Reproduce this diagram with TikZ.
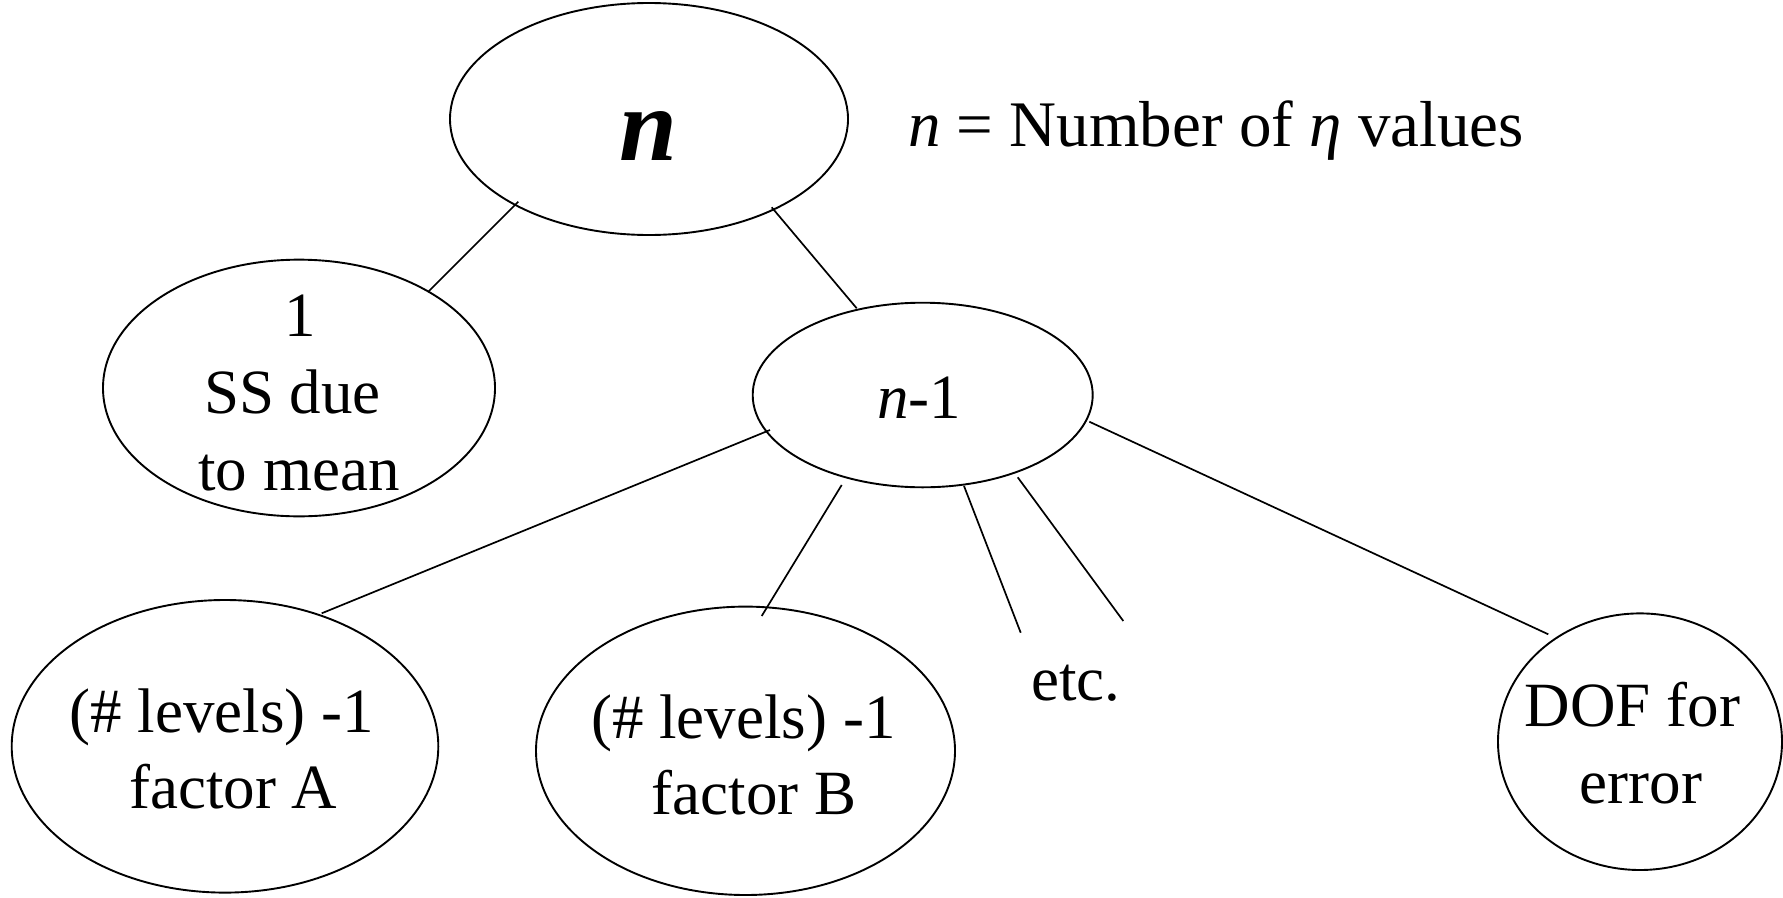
\documentclass[tikz,border=0pt]{standalone}
\usepackage{fontspec}
\setmainfont{Liberation Serif}
\usetikzlibrary{shapes.geometric,calc}
\begin{document}
\begin{tikzpicture}[x=1pt,y=-1pt,
  ell/.style={draw=black,ellipse,inner sep=0pt,line width=1.9pt},
  conn/.style={draw=black,line width=1.7pt},
  txt/.style={inner sep=0pt,anchor=base,font=\fontsize{63}{76}\selectfont}]
\useasboundingbox (0,0) rectangle (1783,897);
% ellipses
\node[ell,minimum width=398pt,minimum height=232pt] (nn) at (649,119) {};
\node[ell,minimum width=392pt,minimum height=256.7pt] (one) at (299,388) {};
\node[ell,minimum width=340pt,minimum height=184.6pt] (nm1) at (922.7,395) {};
\node[ell,minimum width=426.6pt,minimum height=292.6pt] (fa) at (225,746.3) {};
\node[ell,minimum width=419pt,minimum height=288.4pt] (fb) at (745.5,750.8) {};
\node[ell,minimum width=284pt,minimum height=256.6pt] (dof) at (1640,741.7) {};
% texts
\node[txt,font=\fontsize{104}{114}\selectfont\bfseries\itshape] (nlab) at (648,160) {n};
\node[txt,anchor=base west,font=\fontsize{65}{76}\selectfont] (def) at (908,146) {\textit{n} = Number of \textit{η} values};
\node[txt] (one1) at (300,336) {1};
\node[txt] (one2) at (292.5,413.3) {SS due};
\node[txt] (one3) at (299,490) {to mean};
\node[txt] (nm1lab) at (919,418.3) {\textit{n}-1};
\node[txt] (fa1) at (221.7,732.7) {(\# levels) -1};
\node[txt] (fa2) at (233.3,808.3) {factor A};
\node[txt] (fb1) at (743.3,738.3) {(\# levels) -1};
\node[txt] (fb2) at (754,814) {factor B};
\node[txt] (etc) at (1076,700.7) {etc.};
\node[txt] (dof1) at (1632.5,726.7) {DOF for};
\node[txt] (dof2) at (1641,803.3) {error};
% free ends
\coordinate (etcA) at (1020.7,632.7);
\coordinate (etcB) at (1123.3,621);
% connectors
\draw[conn] ($(nn.center)+(-130.7,82.7)$) -- ($(one.center)+(129.3,-96.3)$);
\draw[conn] ($(nn.center)+(122.7,88.3)$) -- ($(nm1.center)+(-66,-86.7)$);
\draw[conn] ($(nm1.center)+(-152.7,35)$) -- ($(fa.center)+(96.7,-133)$);
\draw[conn] ($(nm1.center)+(-81,90)$) -- ($(fb.center)+(16.2,-134.8)$);
\draw[conn] ($(nm1.center)+(41.3,91)$) -- (etcA);
\draw[conn] ($(nm1.center)+(95,82.3)$) -- (etcB);
\draw[conn] ($(nm1.center)+(166.6,26.7)$) -- ($(dof.center)+(-91.7,-107.4)$);
\end{tikzpicture}
\end{document}
